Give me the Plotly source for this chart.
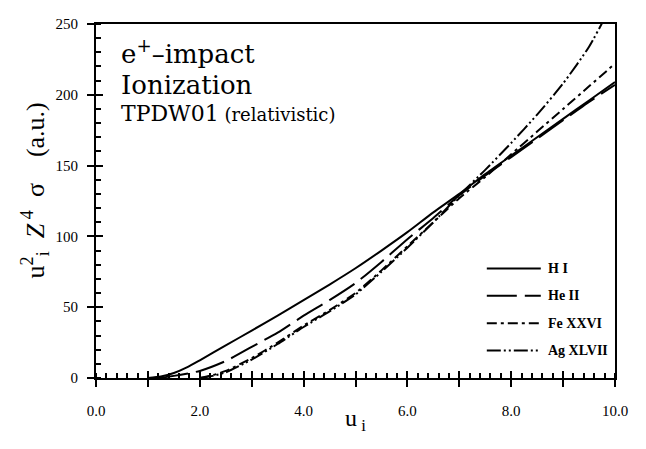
import plotly.graph_objects as go

# ---- data ----
u_H = [1.0, 1.25, 1.5, 1.75, 2.0, 2.5, 3.0, 3.5, 4.0, 4.5, 5.0, 5.5, 6.0, 6.5, 7.0, 7.5, 8.0, 8.5, 9.0, 9.5, 10.0]
s_H = [0, 1, 3.5, 7.5, 12.5, 23, 33.5, 44, 55, 66, 77.5, 90, 103, 117, 130, 144, 157, 170, 183, 196, 209]

u_He = [1.2, 1.5, 2.0, 2.5, 3.0, 3.5, 4.0, 4.5, 5.0, 5.5, 6.0, 6.5, 7.0, 7.5, 8.0, 8.5, 9.0, 9.5, 10.0]
s_He = [0, 1.5, 5, 12, 22, 32, 44, 55, 67, 82, 98, 113, 129, 143, 156, 169, 182, 195, 207]

u_Fe = [2.0, 2.25, 2.5, 3.0, 3.5, 4.0, 4.5, 5.0, 5.5, 6.0, 6.5, 7.0, 7.5, 8.0, 8.5, 9.0, 9.5, 10.0]
s_Fe = [0, 2, 5, 14, 25, 37, 48, 60, 76, 93, 110, 127, 142, 158, 174, 190, 206, 222]

u_Ag = [2.0, 2.25, 2.5, 3.0, 3.5, 4.0, 4.5, 5.0, 5.5, 6.0, 6.5, 7.0, 7.5, 8.0, 8.5, 9.0, 9.5, 10.0]
s_Ag = [0, 1.5, 4, 13, 24, 36, 47, 59, 75, 92, 110, 129, 147, 166, 186, 208, 234, 268]

series_names = ["H I", "He II", "Fe XXVI", "Ag XLVII"]
x_tickvals = [0, 1, 2, 3, 4, 5, 6, 7, 8, 9, 10]
x_ticktext = ["0.0", "", "2.0", "", "4.0", "", "6.0", "", "8.0", "", "10.0"]
y_tickvals = [0, 50, 100, 150, 200, 250]

BIG = "DejaVu Serif"
SERIF = "Liberation Serif, Times New Roman, serif"
dashes = ["solid", "30px,8px", "10px,4px,3px,4px", "14px,3px,2px,3px,2px,3px"]
LW = 2
M_T, M_B, M_L, M_R = 8, 79, 88, 39
PLOT_H = 449.0 - M_T - M_B
PLOT_W = 646.0 - M_L - M_R

fig = go.Figure()
for ux, sy, name, d in zip([u_H, u_He, u_Fe, u_Ag], [s_H, s_He, s_Fe, s_Ag], series_names, dashes):
    fig.add_trace(go.Scatter(x=ux, y=sy, mode="lines", name=name,
                             line=dict(color="black", width=LW, dash=d, shape="spline", smoothing=0.6),
                             showlegend=False))

# invisible trace that activates the overlay axes (inner half of the major ticks)
fig.add_trace(go.Scatter(x=[0], y=[0], xaxis="x2", yaxis="y2", mode="markers",
                         marker=dict(opacity=0), showlegend=False, hoverinfo="skip"))

# manual legend (rows measured in px above the x axis)
leg_rows_px = [112, 84, 56, 28]
for name, d, r in zip(series_names, dashes, leg_rows_px):
    yp = r / PLOT_H
    fig.add_shape(type="line", xref="paper", yref="paper", x0=0.753, x1=0.857, y0=yp, y1=yp,
                  line=dict(color="black", width=LW, dash=d))
    fig.add_annotation(x=0.868, y=yp, xref="paper", yref="paper", text="<b>%s</b>" % name,
                       showarrow=False, xanchor="left", yanchor="middle",
                       font=dict(family=SERIF, size=14, color="black"))

# text block
fig.add_annotation(x=0.044, y=0.92, xref="paper", yref="paper", text="e<sup>+</sup>–impact",
                   showarrow=False, xanchor="left", yanchor="middle",
                   font=dict(family=BIG, size=26, color="black"))
fig.add_annotation(x=0.044, y=0.828, xref="paper", yref="paper", text="Ionization",
                   showarrow=False, xanchor="left", yanchor="middle",
                   font=dict(family=BIG, size=26, color="black"))
fig.add_annotation(x=0.044, y=0.748, xref="paper", yref="paper",
                   text="TPDW01<span style='font-size:18px'> (relativistic)</span>",
                   showarrow=False, xanchor="left", yanchor="middle",
                   font=dict(family=BIG, size=22, color="black"))

# axis titles
fig.add_annotation(x=0.5, y=-43 / PLOT_H, xref="paper", yref="paper", text="u<sub> i</sub>",
                   showarrow=False, xanchor="center", yanchor="middle",
                   font=dict(family=SERIF, size=24, color="black"))
fig.add_annotation(x=-61 / PLOT_W, y=0.53, xref="paper", yref="paper",
                   text="u<sup>2</sup><sub>i</sub>  <i>Z</i><sup> 4</sup>  σ    (a.u.)",
                   showarrow=False, xanchor="center", yanchor="middle", textangle=-90,
                   font=dict(family=SERIF, size=26, color="black"))

axis_common = dict(showgrid=False, zeroline=False, linecolor="black", linewidth=2,
                   tickcolor="black", tickwidth=2, ticklen=7,
                   tickfont=dict(family=SERIF, size=15, color="black"))

fig.update_layout(
    width=646, height=449,
    margin=dict(l=M_L, r=M_R, t=M_T, b=M_B),
    paper_bgcolor="white", plot_bgcolor="white",
    xaxis=dict(range=[0, 10], tickmode="array", tickvals=x_tickvals, ticktext=x_ticktext,
               ticks="outside", mirror=True, ticklabelstandoff=11,
               minor=dict(ticks="inside", dtick=0.2, ticklen=5, tickwidth=1.5, tickcolor="black"),
               **axis_common),
    yaxis=dict(range=[0, 250], tickmode="array", tickvals=y_tickvals,
               ticks="outside", mirror=True, ticklabelstandoff=6,
               minor=dict(ticks="inside", dtick=10, ticklen=5, tickwidth=1.5, tickcolor="black"),
               **axis_common),
    xaxis2=dict(range=[0, 10], overlaying="x", anchor="y2", side="bottom", tickmode="array",
                tickvals=x_tickvals, showticklabels=False, ticks="inside", ticklen=7, tickwidth=2,
                tickcolor="black", showgrid=False, zeroline=False, showline=False),
    yaxis2=dict(range=[0, 250], overlaying="y", anchor="x2", side="left", tickmode="array",
                tickvals=y_tickvals, showticklabels=False, ticks="inside", ticklen=7, tickwidth=2,
                tickcolor="black", showgrid=False, zeroline=False, showline=False),
)

fig.write_html("out.html")
